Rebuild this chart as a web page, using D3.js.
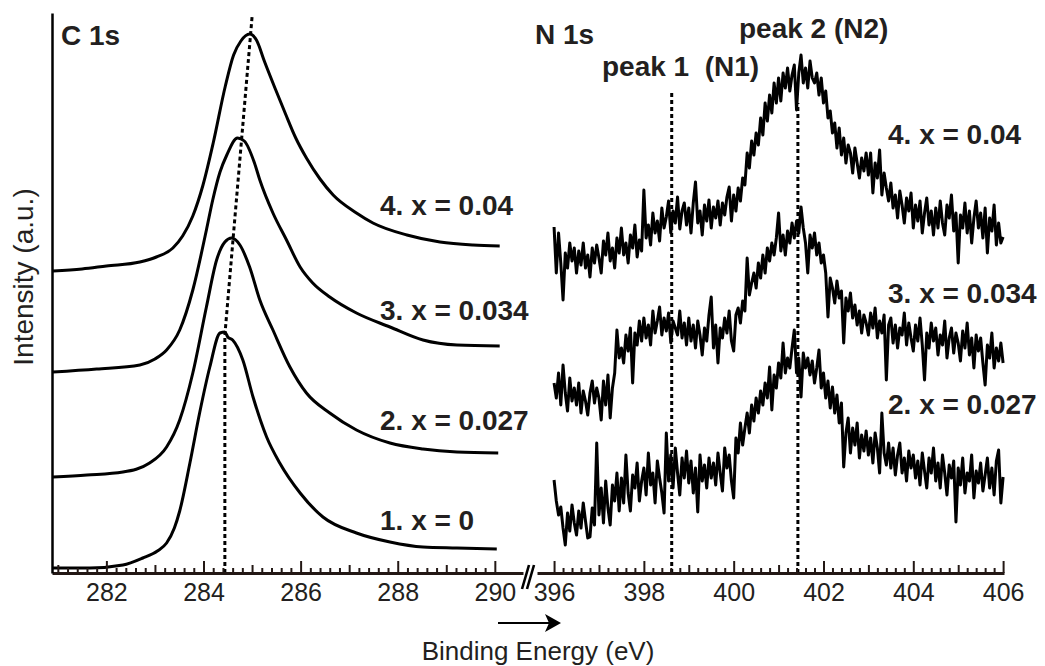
<!DOCTYPE html>
<html>
<head>
<meta charset="utf-8">
<script src="https://cdn.jsdelivr.net/npm/d3@7"></script>
<style>
  body { margin: 0; background: #fff; }
  svg { display: block; font-family: "Liberation Sans", Arial, Helvetica, sans-serif; }
</style>
</head>
<body>
<svg id="chart" width="1045" height="666"></svg>
<script>
// C 1s spectra: [binding energy (eV), intensity (a.u.)]
const c1s_x04 = [[280.9,302],[281.5,304],[282.0,307],[282.69,311],[283.03,316],[283.37,325],[283.57,337],[283.78,357],[283.99,388],[284.2,430],[284.45,487],[284.62,518],[284.77,532],[284.95,539],[285.09,533],[285.26,511],[285.48,484],[285.69,459],[285.9,435],[286.12,415],[286.4,394],[286.67,378],[287.15,360],[287.49,350],[288.19,338],[288.87,331],[289.55,328],[290.1,327]];
const c1s_x034 = [[280.9,201],[281.8,204],[282.69,208],[283.0,214],[283.24,223],[283.51,243],[283.78,283],[284.06,343],[284.19,373],[284.34,401],[284.48,418],[284.7,435],[284.84,432],[285.05,410],[285.16,393],[285.43,360],[285.71,333],[285.99,306],[286.25,290],[286.6,276],[287.15,260],[287.84,246],[288.52,233],[289.22,228],[290.1,227]];
const c1s_x027 = [[280.9,96],[281.6,98],[282.34,101],[282.89,110],[283.24,126],[283.51,153],[283.78,200],[284.06,266],[284.27,313],[284.44,331],[284.58,335],[284.75,328],[284.95,306],[285.16,273],[285.43,243],[285.78,206],[286.12,180],[286.6,160],[287.15,143],[287.84,130],[288.52,124],[289.22,121],[290.07,120]];
const c1s_x0 = [[280.9,5],[281.66,5],[282.34,8],[282.75,15],[283.05,22],[283.24,30],[283.4,45],[283.51,62],[283.72,110],[283.92,160],[284.13,206],[284.34,240],[284.44,241],[284.5,236],[284.6,233],[284.81,213],[285.02,176],[285.3,136],[285.57,110],[285.99,80],[286.46,56],[287.15,40],[287.84,31],[288.52,26],[289.22,25],[290.04,24]];

// N 1s spectra: intensity (a.u.) every 0.05 eV from 396 eV
const nStart = 396, nStep = 0.05;
const n1s_x04 = [346,300,340,310,273,320,305,330,312,325, 300,322,308,330,305,318,296,325,310,328,
  315,300,332,318,340,312,325,305,335,320, 345,318,330,310,338,325,348,316,333,322,
  383,335,348,328,360,340,352,332,365,345, 356,372,340,362,350,376,344,362,370,348,
  365,340,370,391,350,362,338,368,352,373, 345,366,355,372,348,370,358,376,386,352,
  378,362,385,372,395,388,420,405,432,418, 440,428,455,438,470,452,478,460,490,470,
  495,472,500,485,505,482,498,508,463,500, 518,490,505,485,512,495,490,500,478,495,
  470,482,455,462,440,450,425,445,418,435, 410,428,420,400,425,410,395,415,402,420,
  398,420,380,410,395,423,378,400,385,372, 390,365,378,355,382,368,350,375,362,380,
  345,368,352,372,340,360,375,348,362,338, 365,345,372,350,338,368,355,378,342,360,
  310,358,345,370,340,362,330,355,372,345, 360,335,365,320,355,342,368,328,350,330,336];
const n1s_x034 = [190,175,200,168,208,180,162,195,172,185, 168,190,160,182,172,158,180,192,170,185,
  175,153,192,168,198,155,185,200,243,215, 225,210,238,222,245,190,240,228,252,232,
  255,235,248,228,262,240,252,266,238,255, 242,260,230,252,245,238,262,235,250,228,
  255,232,248,225,252,238,218,245,232,258, 276,225,248,210,245,235,255,240,262,232,
  222,258,265,250,272,262,315,278,290,300, 285,310,295,318,300,325,312,330,318,335,
  360,322,338,318,342,330,350,335,352,340, 366,345,330,300,338,325,340,318,330,310,
  318,300,256,295,285,270,292,275,282,230, 275,262,280,255,268,248,262,240,258,250,
  238,260,245,265,235,252,240,258,193,248, 255,230,248,225,245,238,260,228,250,235,
  222,248,232,255,228,193,240,225,250,232, 245,218,238,228,252,215,235,245,220,240,
  230,212,242,225,250,218,235,205,238,222, 235,210,188,228,215,240,205,225,212,230,210];
const n1s_x027 = [93,72,58,66,45,28,60,42,68,50, 38,62,45,70,52,35,36,65,48,130,
  58,85,50,92,65,48,88,72,100,62, 95,70,118,80,62,98,85,110,72,92,
  105,78,120,88,100,70,112,95,80,60, 140,92,118,85,125,100,78,115,95,122,
  90,112,80,105,61,118,92,108,85,115, 95,110,88,120,100,82,125,105,118,92,
  75,135,120,150,128,145,160,140,168,152, 175,160,182,168,190,175,206,163,198,185,
  210,195,230,200,215,205,225,243,200,215, 176,220,205,215,198,212,190,205,223,185,
  200,175,192,165,186,160,178,150,170,106, 140,155,120,145,128,150,115,138,122,142,
  118,135,110,140,125,100,160,120,108,130, 105,125,98,118,130,100,115,92,122,105,
  118,95,112,88,120,102,85,115,100,125, 92,110,85,118,100,78,108,95,112,51,
  105,88,115,80,100,92,118,75,102,90, 110,82,98,115,85,105,78,112,123,70,96];

const cTickLabels = [282, 284, 286, 288, 290];
const nTickLabels = [396, 398, 400, 402, 404, 406];
const minorStep = 0.2;
const cLabels = ["4. x = 0.04", "3. x = 0.034", "2. x = 0.027", "1. x = 0"];
const nLabels = ["4. x = 0.04", "3. x = 0.034", "2. x = 0.027"];
// peak guide lines: [energy, intensity]
const cPeakGuide = [[284.44, 0], [284.44, 238], [285.0, 556]];
const nPeakGuides = [[[398.62, 0], [398.62, 483]], [[401.43, 0], [401.43, 470]]];
const nPeakNames = ["peak 1  (N1)", "peak 2 (N2)"];

const svg = d3.select("#chart");
const ink = "#231f20";
const axisY = 573;

const xC = d3.scaleLinear().domain([280.88, 290.58]).range([52, 523]);
const xN = d3.scaleLinear().domain([395.62, 406.02]).range([537, 1004]);
const y = d3.scaleLinear().domain([0, 560]).range([axisY, 13]);

const lineOf = (x, curve) => d3.line().x(d => x(d[0])).y(d => y(d[1])).curve(curve);
const toPairs = arr => arr.map((v, i) => [nStart + i * nStep, v]);

// dotted guides (under the spectra)
svg.append("path").datum(cPeakGuide)
    .attr("d", lineOf(xC, d3.curveLinear))
    .attr("fill", "none").attr("stroke", "#000")
    .attr("stroke-width", 3).attr("stroke-dasharray", "4,3");
nPeakGuides.forEach(g => {
    svg.append("path").datum(g)
        .attr("d", lineOf(xN, d3.curveLinear))
        .attr("fill", "none").attr("stroke", "#000")
        .attr("stroke-width", 3).attr("stroke-dasharray", "4,3");
});

// C 1s spectra
[c1s_x04, c1s_x034, c1s_x027, c1s_x0].forEach(s => {
    svg.append("path").datum(s)
        .attr("d", lineOf(xC, d3.curveMonotoneX))
        .attr("fill", "none").attr("stroke", "#000")
        .attr("stroke-width", 3).attr("stroke-linejoin", "round");
});

// N 1s spectra
[n1s_x04, n1s_x034, n1s_x027].forEach(s => {
    svg.append("path").datum(toPairs(s))
        .attr("d", lineOf(xN, d3.curveLinear))
        .attr("fill", "none").attr("stroke", "#000")
        .attr("stroke-width", 3).attr("stroke-linejoin", "round");
});

// bottom axes with inward ticks
function bottomAxis(x, lo, hi, labels) {
    const n = Math.round((hi - lo) / minorStep);
    const all = d3.range(n + 1).map(i => +(lo + i * minorStep).toFixed(1));
    const isInt = v => Math.abs(v - Math.round(v)) < 0.01;
    const minor = all.filter(v => !isInt(v));
    const mid = all.filter(v => isInt(v) && !labels.includes(Math.round(v)));
    const g = svg.append("g").attr("transform", `translate(0,${axisY})`);

    const a1 = g.append("g").call(d3.axisBottom(x).tickValues(minor).tickSizeInner(-5).tickSizeOuter(0).tickFormat(""));
    const a2 = g.append("g").call(d3.axisBottom(x).tickValues(mid).tickSizeInner(-8).tickSizeOuter(0).tickFormat(""));
    const a3 = g.append("g").call(d3.axisBottom(x).tickValues(labels).tickSizeInner(-12).tickSizeOuter(0).tickPadding(10));

    a2.select(".domain").remove();
    a3.select(".domain").remove();
    a1.select(".domain").attr("stroke", "#231815").attr("stroke-width", 3);
    g.selectAll(".tick line").attr("stroke", "#231815").attr("stroke-width", 2);
    a3.selectAll(".tick text")
        .attr("fill", ink)
        .style("font-size", "25px")
        .style("font-family", "'Liberation Sans', Arial, Helvetica, sans-serif");
}
bottomAxis(xC, 281, 290, cTickLabels);
bottomAxis(xN, 396, 406, nTickLabels);

// left axis line
svg.append("g").attr("transform", "translate(52,0)")
    .call(d3.axisLeft(y).tickValues([]).tickSizeOuter(0))
    .select(".domain").attr("stroke", "#000").attr("stroke-width", 2.5);

// axis break marks
[0, 5].forEach(dx => {
    svg.append("line")
        .attr("x1", 522 + dx).attr("y1", 589)
        .attr("x2", 529 + dx).attr("y2", 565)
        .attr("stroke", "#000").attr("stroke-width", 2.6);
});

// axis titles
svg.append("text")
    .attr("x", 538).attr("y", 660)
    .attr("text-anchor", "middle")
    .attr("fill", ink).style("font-size", "26px")
    .text("Binding Energy (eV)");
svg.append("path")
    .attr("d", "M498,623H550")
    .attr("stroke", "#000").attr("stroke-width", 2);
svg.append("path")
    .attr("d", "M545,614L561,623L545,632L549,623Z")
    .attr("fill", "#000");

svg.append("text")
    .attr("transform", "translate(33,277) rotate(-90)")
    .attr("text-anchor", "middle")
    .attr("fill", ink).style("font-size", "28px")
    .text("Intensity (a.u.)");

// panel titles and labels
const bold = sel => sel.attr("fill", ink).style("font-size", "28px").style("font-weight", "bold").style("white-space", "pre");
bold(svg.append("text").attr("x", 61).attr("y", 45).text("C 1s"));
bold(svg.append("text").attr("x", 535).attr("y", 44).text("N 1s"));
bold(svg.append("text").attr("x", 602).attr("y", 76).text(nPeakNames[0]));
bold(svg.append("text").attr("x", 739).attr("y", 38).text(nPeakNames[1]));

const cLabelY = [215, 320, 430, 530];
cLabels.forEach((t, i) => bold(svg.append("text").attr("x", 380).attr("y", cLabelY[i]).text(t)));
const nLabelY = [144, 303, 414];
nLabels.forEach((t, i) => bold(svg.append("text").attr("x", 888).attr("y", nLabelY[i]).text(t)));
</script>
</body>
</html>
